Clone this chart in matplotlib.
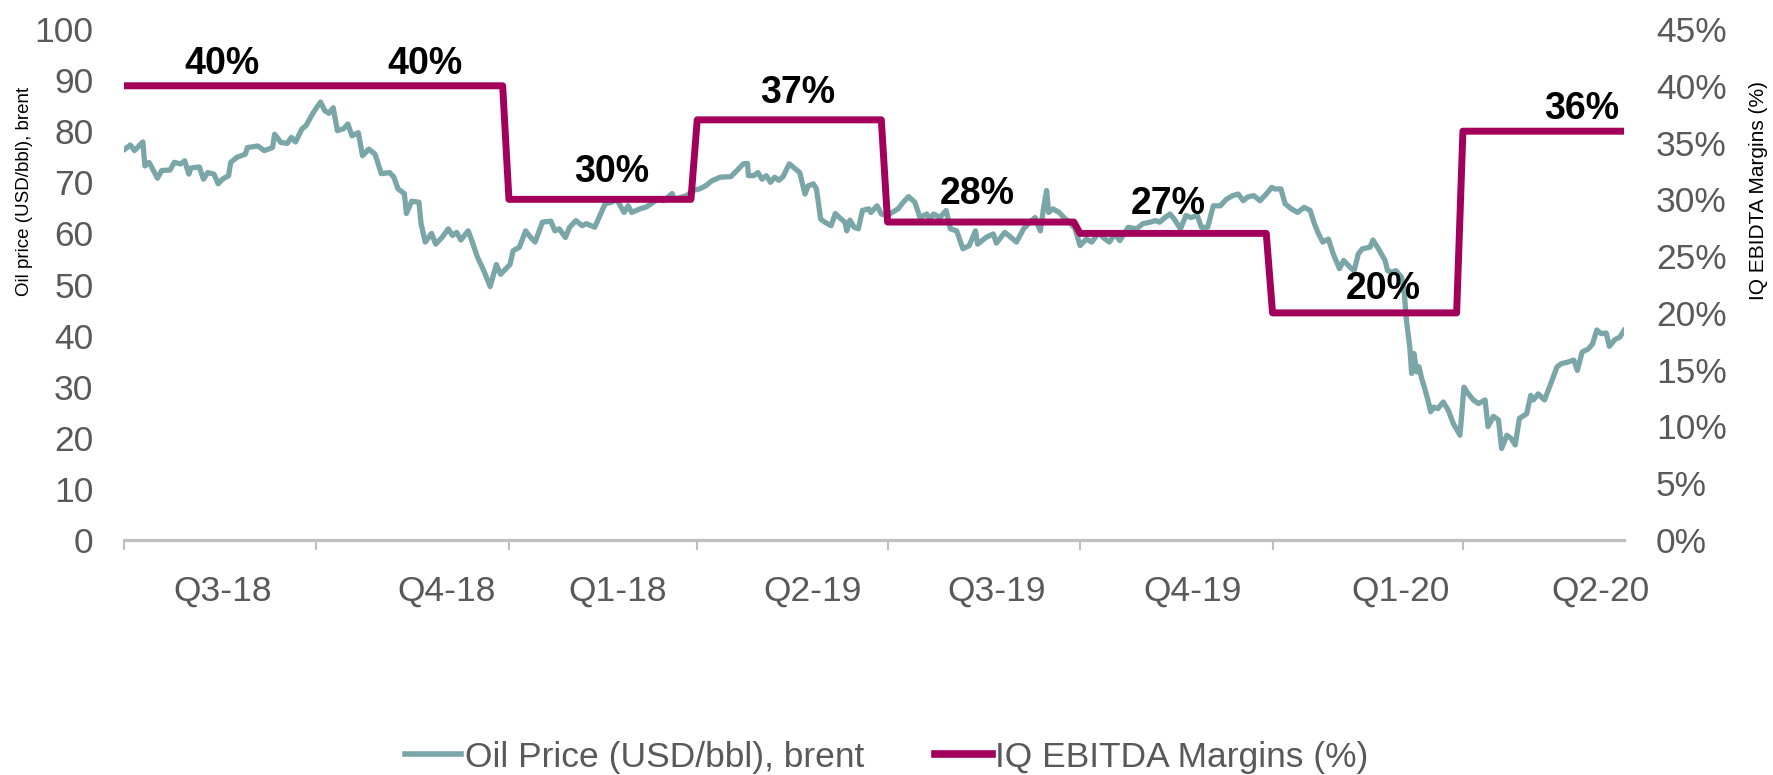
import matplotlib
matplotlib.use("Agg")
import matplotlib.pyplot as plt
import matplotlib.dates as mdates
from matplotlib.lines import Line2D
from matplotlib.ticker import FuncFormatter, MultipleLocator
import pandas as pd

plt.rcParams['font.family'] = ['Liberation Sans', 'DejaVu Sans']

# ---------------- data ----------------
start_date = "2018-07-01"
end_date = "2020-06-17"

# Brent oil price (USD/bbl): day offset from start_date, price
oil_day = [0.5, 3, 5, 9, 10, 12, 16, 18, 22, 24, 27, 29, 31, 32, 36, 38, 40, 43, 45, 47,
           50, 51, 54, 58, 59, 64, 67, 71, 72, 75, 78, 80, 82, 85, 87, 90, 92, 94, 96, 98,
           100, 102, 105, 107, 109, 112, 114, 117, 120, 123, 127, 129, 131, 134, 135, 137.5,
           141, 142, 144, 147, 149, 152, 155, 157, 159, 161, 164.5, 166, 169, 172, 175, 178,
           180, 184.5, 186, 189, 192, 194, 196.5, 200, 204, 206, 208, 211, 213, 216, 219,
           221, 225, 227.5, 230, 233, 235.5, 239, 241, 242.7, 246.6, 249.8, 253, 255, 258,
           262, 263, 266.6, 269, 272, 275, 278, 281, 285, 290, 293, 296, 298, 298.5, 301,
           303, 305, 307, 309, 311, 313, 315, 318, 321, 323, 325.5, 327, 329.5, 331, 333,
           335, 338, 340, 342, 344.6, 345.5, 347, 349, 351, 353, 356, 357, 360, 362, 364.6,
           368, 370, 372.5, 375, 378, 380.5, 383.7, 385, 387, 390, 393, 395, 398, 401, 404,
           407, 408, 412, 415.5, 417, 421, 424, 426.6, 430, 433, 435.5, 438, 439.5, 441,
           442, 444, 447, 450, 452, 454.6, 457, 460, 462.6, 466, 468, 471, 473.7, 476, 480,
           484, 487, 490.5, 493, 495, 497.6, 500, 502, 505, 507.6, 510, 513, 515, 518,
           520.7, 524, 527, 530, 532.6, 535, 537, 540, 543, 546, 548.6, 550, 553, 555, 558,
           561, 564, 567, 569, 571, 573, 575.7, 578, 581, 583, 586, 588, 590, 592, 595.6,
           597, 599.6, 602.8, 604, 606, 608, 610.7, 612, 613, 614.6, 615.5, 616.6, 617.9,
           619, 620.3, 622, 623.5, 624.6, 626, 628, 630.6, 633, 635.4, 638.6, 640.5, 642.6,
           645, 647.4, 650.6, 652, 654.6, 657, 658.5, 661, 663, 665, 667, 670.5, 672.4,
           673.7, 676, 679, 682, 685, 687, 690, 693, 694.7, 697, 700, 702, 704, 706, 708.5,
           710, 712.6, 715, 717]
oil_price = [76.5, 77.3, 76.2, 77.9, 73.2, 73.9, 70.8, 72.3, 72.4, 73.9, 73.6, 74.2, 71.6, 72.8,
             73.0, 70.6, 71.9, 71.6, 69.7, 70.6, 71.3, 73.9, 74.9, 75.5, 76.8, 77.1, 76.2, 76.8,
             79.4, 77.8, 77.6, 78.8, 77.9, 80.4, 81.1, 83.3, 84.6, 85.7, 84.0, 83.5, 84.6, 80.1,
             80.5, 81.4, 79.1, 79.7, 75.2, 76.5, 75.5, 71.7, 71.9, 71.0, 68.7, 67.8, 63.9, 66.3,
             66.1, 61.9, 58.3, 60.0, 57.9, 59.2, 60.9, 59.6, 60.2, 58.7, 60.5, 58.9, 55.3, 52.7,
             49.6, 53.9, 52.0, 53.9, 56.6, 57.3, 60.5, 59.4, 58.3, 62.2, 62.4, 60.5, 60.9, 59.2,
             61.2, 62.5, 61.5, 61.9, 61.2, 63.5, 65.8, 66.1, 66.7, 64.1, 65.4, 64.1, 64.8, 65.2,
             66.1, 66.7, 66.4, 67.8, 66.7, 67.1, 67.4, 68.4, 68.7, 69.3, 70.3, 71.0, 71.1, 72.3,
             73.6, 73.7, 71.3, 71.3, 71.9, 70.6, 71.3, 70.0, 71.0, 70.4, 71.1, 73.6, 72.6, 71.9,
             67.7, 69.3, 69.7, 68.7, 62.8, 62.2, 61.5, 63.9, 63.1, 62.2, 60.5, 62.6, 61.2, 60.9,
             64.5, 64.8, 64.1, 65.4, 63.8, 63.5, 64.3, 64.8, 66.1, 67.2, 66.1, 63.1, 63.8, 62.8,
             63.8, 63.1, 64.5, 60.9, 60.5, 57.0, 57.6, 60.5, 57.9, 59.2, 59.9, 58.1, 60.2, 59.2,
             58.3, 60.9, 62.2, 63.1, 60.5, 64.8, 68.4, 64.1, 64.8, 64.1, 62.8, 62.2, 60.9, 57.6,
             58.9, 58.3, 60.2, 59.2, 58.3, 59.9, 58.6, 61.2, 60.9, 61.9, 62.2, 62.5, 62.2, 63.1,
             63.8, 62.8, 60.9, 63.5, 63.1, 63.5, 61.2, 61.2, 65.4, 65.4, 66.7, 67.4, 67.7, 66.4,
             67.1, 67.4, 66.4, 67.7, 69.0, 68.7, 68.7, 65.8, 64.8, 64.1, 65.1, 64.5, 61.9, 59.9,
             58.3, 58.9, 56.0, 53.1, 54.7, 53.4, 52.7, 56.0, 57.0, 57.3, 58.7, 57.0, 54.7, 52.7,
             52.4, 52.7, 51.4, 48.2, 43.0, 37.8, 32.6, 36.5, 32.9, 33.9, 31.6, 29.3, 27.0, 25.1,
             26.0, 25.7, 27.0, 25.4, 22.8, 20.5, 29.9, 28.6, 27.4, 26.7, 27.4, 22.2, 24.2, 23.5,
             17.9, 20.5, 19.9, 18.6, 23.8, 24.7, 28.3, 27.4, 28.6, 27.4, 30.6, 33.9, 34.5, 34.8,
             35.2, 33.2, 36.8, 37.4, 38.4, 41.1, 40.4, 40.5, 37.9, 39.2, 39.7, 41.0]

# IQ EBITDA margins (%) per quarter
quarter_starts = ["2018-07-01", "2018-10-01", "2019-01-01", "2019-04-01",
                  "2019-07-01", "2019-10-01", "2020-01-01", "2020-04-01"]
margins = [40, 40, 30, 37, 28, 27, 20, 36]
margin_labels = ["40%", "40%", "30%", "37%", "28%", "27%", "20%", "36%"]
quarter_labels = ["Q3-18", "Q4-18", "Q1-18", "Q2-19", "Q3-19", "Q4-19", "Q1-20", "Q2-20"]

# ---------------- layout ----------------
margin_label_day = [47, 144, 233, 322, 408, 499, 602, 697]
margin_label_base = [41.0, 41.0, 31.5, 38.5, 29.6, 28.7, 21.2, 37.1]
quarter_label_day = [47, 154, 236, 329, 417, 511, 610, 706]

OIL_C = "#7AA6A7"
MARG_C = "#A2005B"
GRAY_TXT = "#595959"
AXIS_C = "#BFBFBF"
FS = 25.5
FS_LBL = 27

start = pd.Timestamp(start_date)
end = pd.Timestamp(end_date)
def day2date(d):
    return start + pd.to_timedelta(d, unit="D")

oil_dates = [day2date(d) for d in oil_day]

# step series for margins
qs = [pd.Timestamp(q) for q in quarter_starts]
step_x, step_y = [], []
for i, m in enumerate(margins):
    seg_start = qs[i] if i == 0 else qs[i]
    seg_end = qs[i + 1] - pd.Timedelta(days=3) if i + 1 < len(qs) else end
    step_x += [seg_start, seg_end]
    step_y += [m, m]

fig = plt.figure(figsize=(17.73, 7.75), dpi=100)
ax = fig.add_axes([124 / 1773, 1 - 540 / 775, (1624 - 124) / 1773, (540 - 29) / 775])
ax2 = ax.twinx()

ax.plot(oil_dates, oil_price, color=OIL_C, lw=3.8, solid_joinstyle="round", zorder=2)
ax2.plot(step_x, step_y, color=MARG_C, lw=5.0, solid_joinstyle="round",
         solid_capstyle="round", zorder=3)

ax.set_xlim(start, end)
ax.set_ylim(0, 100)
ax2.set_ylim(0, 45)
ax.yaxis.set_major_locator(MultipleLocator(10))
ax2.yaxis.set_major_locator(MultipleLocator(5))
ax2.yaxis.set_major_formatter(FuncFormatter(lambda v, p: f"{int(round(v))}%"))

for a in (ax, ax2):
    for s in ("top", "left", "right", "bottom"):
        a.spines[s].set_visible(False)
ax.spines["bottom"].set_visible(True)
ax.spines["bottom"].set_color(AXIS_C)
ax.spines["bottom"].set_linewidth(2.3)

ax.tick_params(axis="y", length=0, pad=22, labelsize=FS, labelcolor=GRAY_TXT)
ax2.tick_params(axis="y", length=0, pad=23, labelsize=FS, labelcolor=GRAY_TXT)

ax.set_xticks(mdates.date2num(qs))
ax.set_xticklabels([""] * len(qs))
ax.set_xticks(mdates.date2num([day2date(d) for d in quarter_label_day]), minor=True)
ax.set_xticklabels(quarter_labels, minor=True)
ax.tick_params(axis="x", which="major", length=7.5, width=1.5, color=AXIS_C, direction="out")
ax.tick_params(axis="x", which="minor", length=0, pad=25, labelsize=FS, labelcolor=GRAY_TXT)

for d, yv, t in zip(margin_label_day, margin_label_base, margin_labels):
    ax2.text(day2date(d), yv, t, ha="center", va="baseline", fontsize=FS_LBL,
             fontweight="bold", color="black", zorder=5)

fig.text(25 / 1773, 1 - 191 / 775, "Oil price (USD/bbl), brent", rotation=90,
         ha="center", va="center", fontsize=13.5, color="black")
fig.text(1758 / 1773, 1 - 190 / 775, "IQ EBIDTA Margins (%)", rotation=90,
         ha="center", va="center", fontsize=15, color="black")

handles = [Line2D([], [], color=OIL_C, lw=4), Line2D([], [], color=MARG_C, lw=5.5)]
fig.legend(handles, ["Oil Price (USD/bbl), brent", "IQ EBITDA Margins (%)"],
           loc="center", bbox_to_anchor=(0.5, 1 - 757 / 775), ncol=2, frameon=False,
           fontsize=FS, labelcolor=GRAY_TXT, handlelength=1.6, handletextpad=0.1,
           columnspacing=2.0)

fig.savefig("out.png", dpi=100)
